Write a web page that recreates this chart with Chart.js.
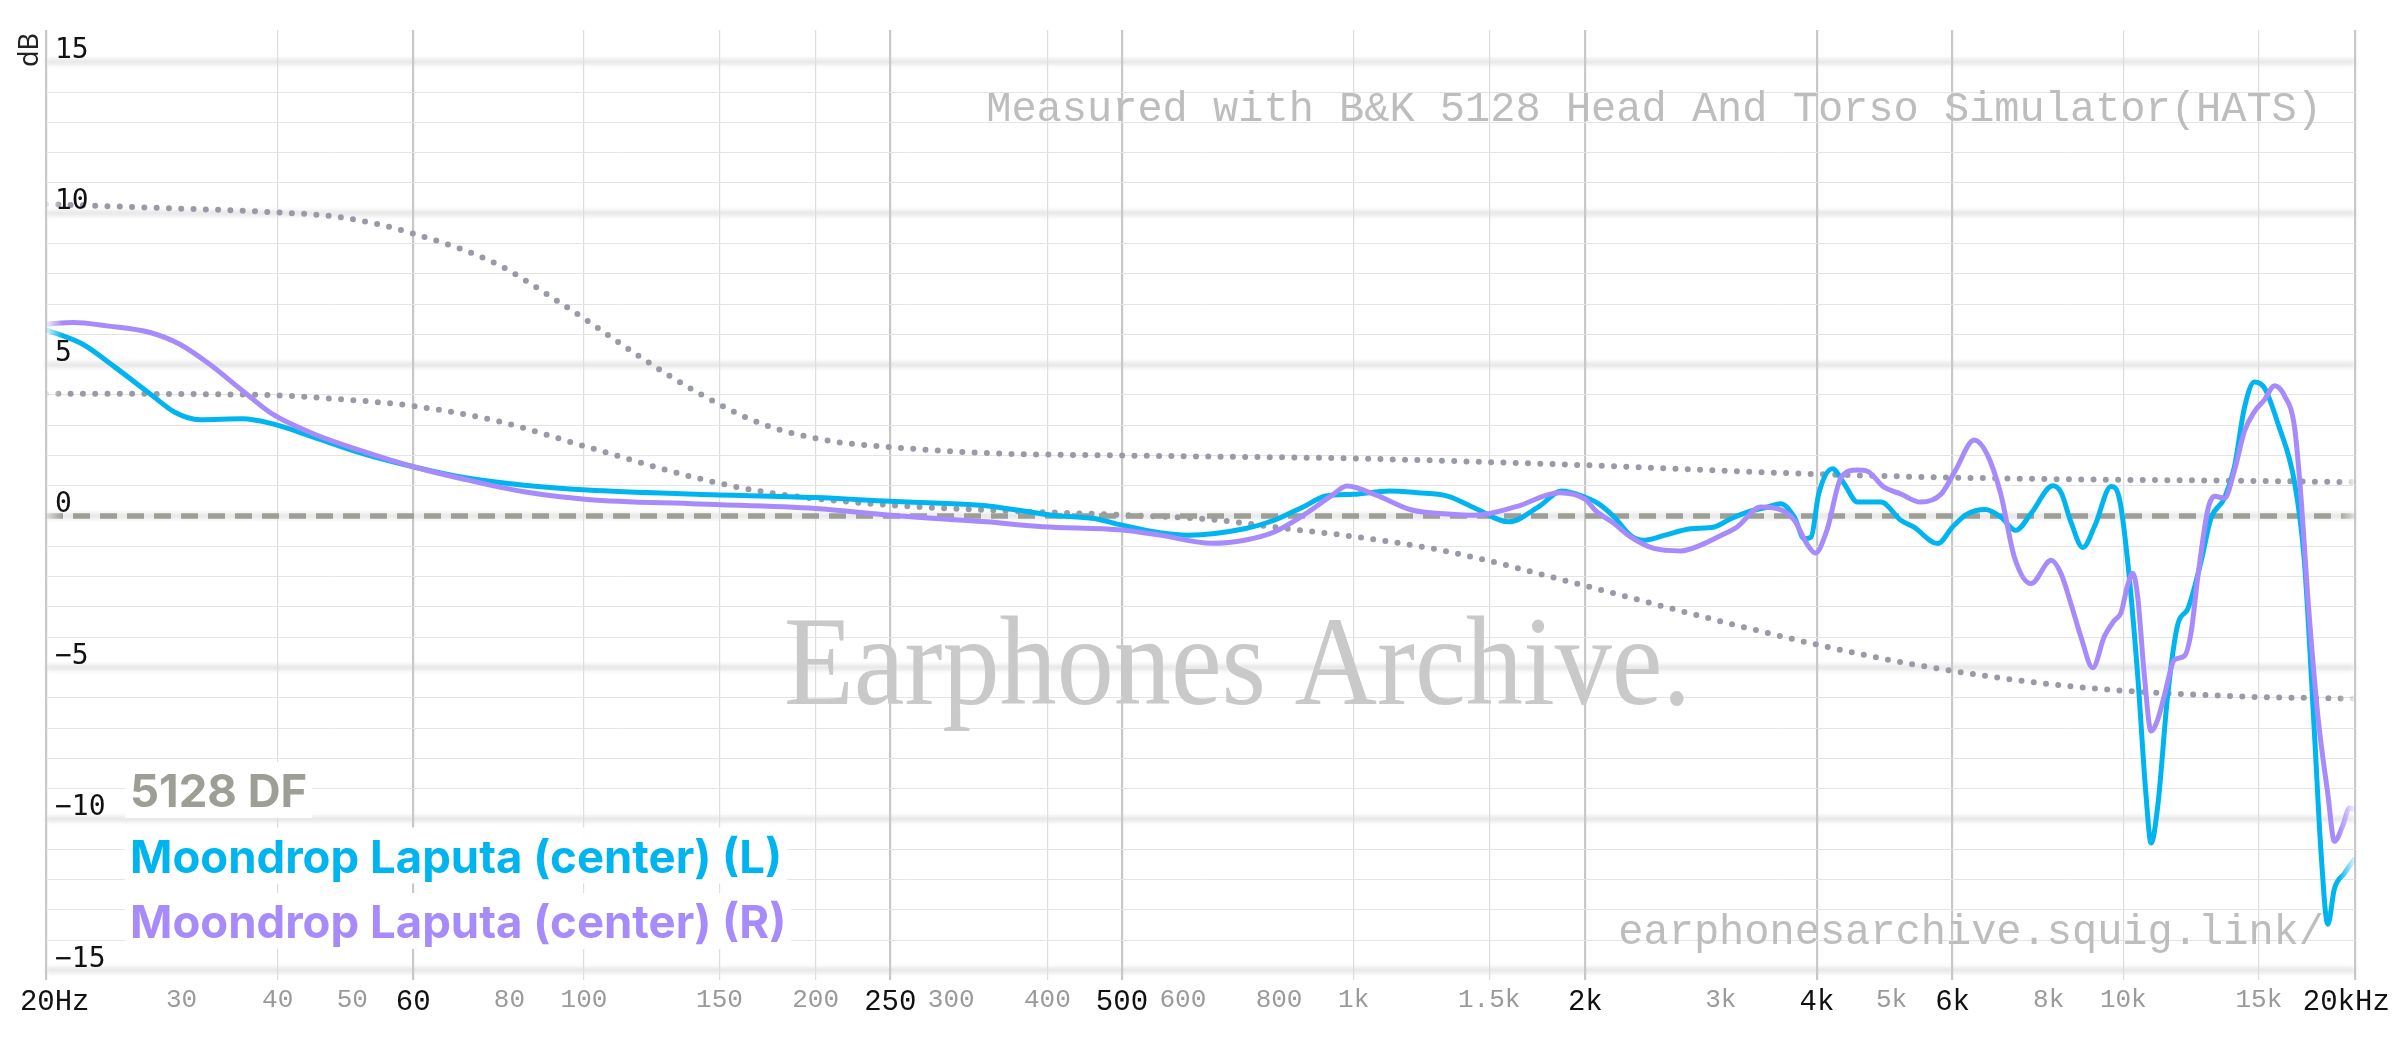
<!DOCTYPE html>
<html>
<head>
<meta charset="utf-8">
<script src="https://cdn.jsdelivr.net/npm/chart.js@4.4.1/dist/chart.umd.min.js"></script>
<style>
html,body{margin:0;padding:0;background:#fff;}
#wrap{width:2400px;height:1038px;position:relative;}
</style>
</head>
<body>
<div id="wrap"><canvas id="c" width="2400" height="1038"></canvas></div>
<script>
// ---------- DATA ----------
const freqL = [20, 22.3, 24.6, 27.3, 29.4, 31.7, 36, 39.3, 44.5, 51.2, 60.2, 69.2, 83.6, 101, 140, 200, 250, 291, 333, 365, 405, 460, 500, 560, 610, 724, 790, 861, 920, 1000, 1113, 1210, 1324, 1440, 1590, 1740, 1864, 2000, 2080, 2180, 2290, 2385, 2532, 2740, 2940, 3090, 3248, 3450, 3590, 3737, 3850, 3930, 4020, 4190, 4340, 4515, 4842, 5140, 5340, 5740, 6000, 6250, 6620, 6930, 7250, 7586, 8100, 8300, 8551, 8860, 9180, 9640, 9880, 10132, 10440, 10700, 10866, 11086, 11420, 11770, 12130, 12620, 13000, 13532, 13944, 14368, 14806, 15256, 15880, 16692, 17190, 17720, 18070, 18438, 18808, 19380, 20000];
const splL = [6.15, 5.68, 4.91, 4.04, 3.43, 3.18, 3.21, 3.05, 2.61, 2.09, 1.62, 1.29, 1.02, 0.86, 0.72, 0.61, 0.49, 0.42, 0.34, 0.2, 0.03, -0.08, -0.3, -0.55, -0.63, -0.41, -0.13, 0.31, 0.66, 0.72, 0.83, 0.77, 0.66, 0.25, -0.19, 0.31, 0.83, 0.62, 0.41, -0.03, -0.64, -0.8, -0.64, -0.42, -0.36, -0.09, 0.13, 0.3, 0.41, -0.03, -0.75, -0.69, 0.73, 1.56, 1.06, 0.46, 0.46, -0.14, -0.36, -0.91, -0.36, 0.05, 0.22, -0.03, -0.47, 0.08, 1.0, 0.78, -0.2, -1.04, -0.33, 0.98, 0.59, -1.5, -5.27, -9.18, -10.8, -9.57, -5.92, -3.58, -3.06, -1.5, -0.07, 0.59, 1.63, 3.58, 4.43, 4.23, 3.06, 1.11, -1.5, -7.23, -11.13, -13.48, -12.3, -11.8, -11.3];

const freqR = [20, 21.7, 24, 27.3, 29.8, 32.6, 36, 39.3, 44.5, 51.2, 60.2, 69.2, 83.6, 101, 141, 200, 250, 333, 395, 500, 560, 655, 724, 790, 861, 938, 980, 1070, 1190, 1324, 1440, 1625, 1850, 2000, 2060, 2180, 2290, 2455, 2660, 2825, 3000, 3150, 3380, 3590, 3737, 3890, 3980, 4120, 4300, 4515, 4650, 4890, 5140, 5450, 5800, 6050, 6402, 6650, 6930, 7218, 7586, 8060, 8300, 8551, 8812, 9126, 9450, 9736, 9932, 10132, 10286, 10440, 10650, 10866, 11086, 11308, 11652, 12006, 12248, 12496, 12874, 13132, 13532, 13944, 14368, 14806, 15256, 15720, 16198, 16692, 17022, 17366, 17894, 18438, 18808, 19288, 19670, 20000];
const splR = [6.34, 6.39, 6.28, 6.06, 5.68, 5.02, 4.14, 3.38, 2.72, 2.17, 1.62, 1.24, 0.80, 0.55, 0.4, 0.25, 0.03, -0.19, -0.35, -0.46, -0.63, -0.9, -0.79, -0.52, 0.03, 0.69, 0.99, 0.69, 0.2, 0.07, 0.03, 0.31, 0.77, 0.55, 0.19, -0.25, -0.69, -1.07, -1.15, -0.96, -0.64, -0.36, 0.3, 0.21, -0.14, -0.96, -1.22, -0.47, 1.28, 1.52, 1.48, 0.95, 0.73, 0.46, 0.73, 1.5, 2.51, 2.05, 0.73, -1.35, -2.23, -1.46, -1.9, -2.9, -4.0, -5.01, -3.97, -3.45, -3.19, -2.28, -1.89, -2.67, -5.27, -7.10, -6.71, -5.92, -4.75, -4.62, -3.84, -2.02, 0.20, 0.65, 0.59, 1.50, 2.80, 3.45, 3.84, 4.30, 3.97, 2.93, 0.59, -2.67, -6.58, -9.18, -10.74, -10.22, -9.64, -9.7];

const freqUpper = [20, 27.6, 38.9, 48.8, 60, 77.2, 91.6, 101, 117.6, 140, 170, 206.6, 249.6, 333, 502, 1002, 1996, 4040, 6030, 8720, 13600, 20000];
const boundUpper = [10.3, 10.18, 10.04, 9.85, 9.33, 8.31, 7.16, 6.45, 5.30, 4.1, 3.05, 2.5, 2.28, 2.08, 2.0, 1.9, 1.68, 1.38, 1.27, 1.21, 1.17, 1.12];

const freqLower = [20, 36.9, 47.4, 60.2, 77.6, 101, 141, 174, 249.6, 333, 502, 666, 790, 1002, 1324, 1996, 2940, 3990, 5340, 8600, 13600, 20000];
const boundLower = [4.04, 4.01, 3.87, 3.63, 3.12, 2.28, 1.24, 0.77, 0.36, 0.2, 0.03, -0.13, -0.37, -0.68, -1.17, -2.3, -3.42, -4.24, -4.9, -5.63, -5.94, -6.03];

const freqTarget = [20, 20000];
const splTarget = [0, 0];

const xTickValues = [20, 30, 40, 50, 60, 80, 100, 150, 200, 250, 300, 400, 500, 600, 800, 1000, 1500, 2000, 3000, 4000, 5000, 6000, 8000, 10000, 15000, 20000];
const xTickLabels = ['20Hz', '30', '40', '50', '60', '80', '100', '150', '200', '250', '300', '400', '500', '600', '800', '1k', '1.5k', '2k', '3k', '4k', '5k', '6k', '8k', '10k', '15k', '20kHz'];
const xMajorTicks = [20, 60, 250, 500, 2000, 4000, 6000, 20000];
const xLightGrid = [40, 100, 150, 200, 400, 1000, 1500, 10000, 15000];

const yGridValues = [-15,-14,-13,-12,-11,-10,-9,-8,-7,-6,-5,-4,-3,-2,-1,0,1,2,3,4,5,6,7,8,9,10,11,12,13,14,15];
const yTickValues = [15, 10, 5, 0, -5, -10, -15];
const yTickLabels = ['15', '10', '5', '0', '−5', '−10', '−15'];
const yAxisTitle = 'dB';

const legendNames = ['5128 DF', 'Moondrop Laputa (center) (L)', 'Moondrop Laputa (center) (R)'];
const noteTop = 'Measured with B&K 5128 Head And Torso Simulator(HATS)';
const noteBottom = 'earphonesarchive.squig.link/';
const watermark = 'Earphones Archive.';

// ---------- STYLE ----------
const RGB_L = '0,181,239';
const RGB_R = '167,139,250';
const RGB_T = '157,159,151';
const RGB_B = '152,155,165';

const toPoints = (xs, ys) => xs.map((x, i) => ({ x: x, y: ys[i] }));

function fade(rgb) {
  return function (context) {
    const chart = context.chart;
    const area = chart.chartArea;
    if (!area) return 'rgb(' + rgb + ')';
    const g = chart.ctx.createLinearGradient(area.left, 0, area.right, 0);
    const f = 16 / (area.right - area.left);
    g.addColorStop(0, 'rgba(' + rgb + ',0.12)');
    g.addColorStop(f, 'rgba(' + rgb + ',1)');
    g.addColorStop(1 - f, 'rgba(' + rgb + ',1)');
    g.addColorStop(1, 'rgba(' + rgb + ',0.12)');
    return g;
  };
}

const bandPlugin = {
  id: 'bands',
  beforeDraw(chart) {
    const a = chart.chartArea; const y = chart.scales.y;
    if (!a || !y) return;
    const ctx = chart.ctx;
    ctx.save();
    ctx.filter = 'blur(2px)';
    ctx.strokeStyle = '#e2e2e2';
    ctx.lineWidth = 5;
    yTickValues.forEach(v => {
      const py = y.getPixelForValue(v);
      ctx.beginPath(); ctx.moveTo(a.left, py); ctx.lineTo(a.right, py); ctx.stroke();
    });
    ctx.restore();
  }
};

const textPlugin = {
  id: 'texts',
  beforeDatasetsDraw(chart) {
    const ctx = chart.ctx;
    ctx.save();
    ctx.fillStyle = '#bdbdbd';
    ctx.font = '42px "Liberation Mono", monospace';
    ctx.textAlign = 'right';
    ctx.textBaseline = 'alphabetic';
    ctx.fillText(noteTop, 2322, 121);
    ctx.fillText(noteBottom, 2324, 944);
    ctx.font = '128px "Liberation Serif", serif';
    ctx.fillStyle = '#c9c9c9';
    ctx.textAlign = 'left';
    const w = ctx.measureText(watermark).width;
    ctx.translate(784, 704);
    ctx.scale(907 / w, 1);
    ctx.fillText(watermark, 0, 0);
    ctx.restore();
  },
  afterDraw(chart) {
    const ctx = chart.ctx;
    const colors = ['rgb(' + RGB_T + ')', 'rgb(' + RGB_L + ')', 'rgb(' + RGB_R + ')'];
    ctx.save();
    ctx.font = '27px "Noto Sans", sans-serif';
    ctx.fillStyle = '#222222';
    ctx.textAlign = 'center';
    ctx.textBaseline = 'middle';
    ctx.translate(30, 50);
    ctx.rotate(-Math.PI / 2);
    ctx.fillText(yAxisTitle, 0, 0);
    ctx.restore();

    ctx.save();
    ctx.font = '700 45.5px Inter, "Noto Sans", sans-serif';
    ctx.textAlign = 'left';
    ctx.textBaseline = 'alphabetic';
    legendNames.forEach((name, i) => {
      const x = 130, y = 807 + i * 65.5;
      const w = ctx.measureText(name).width;
      ctx.fillStyle = '#ffffff';
      ctx.fillRect(x - 5, y - 45, w + 10, 56);
      ctx.fillStyle = colors[i];
      ctx.fillText(name, x, y);
    });
    ctx.restore();
  }
};

const lineBase = { pointRadius: 0, pointHoverRadius: 0, cubicInterpolationMode: 'monotone', fill: false };

const chart = new Chart(document.getElementById('c'), {
  type: 'line',
  data: {
    datasets: [
      Object.assign({}, lineBase, { label: legendNames[2], data: toPoints(freqR, splR), borderColor: fade(RGB_R), borderWidth: 5 }),
      Object.assign({}, lineBase, { label: legendNames[1], data: toPoints(freqL, splL), borderColor: fade(RGB_L), borderWidth: 5 }),
      Object.assign({}, lineBase, { label: legendNames[0], data: toPoints(freqTarget, splTarget), borderColor: fade(RGB_T), borderWidth: 5.5, borderDash: [17, 10] }),
      Object.assign({}, lineBase, { label: 'upper', data: toPoints(freqUpper, boundUpper), borderColor: fade(RGB_B), borderWidth: 6, borderDash: [0, 12.3], borderCapStyle: 'round' }),
      Object.assign({}, lineBase, { label: 'lower', data: toPoints(freqLower, boundLower), borderColor: fade(RGB_B), borderWidth: 6, borderDash: [0, 12.3], borderCapStyle: 'round' })
    ]
  },
  options: {
    responsive: false,
    animation: false,
    devicePixelRatio: 1,
    layout: { padding: { top: 30, right: 45, left: 0, bottom: 0 } },
    plugins: { legend: { display: false }, tooltip: { enabled: false } },
    scales: {
      x: {
        type: 'logarithmic', min: 20, max: 20000,
        afterBuildTicks: (axis) => { axis.ticks = xTickValues.map(v => ({ value: v })); },
        afterFit: (axis) => { axis.height = 58; axis.paddingLeft = 0; axis.paddingRight = 0; },
        border: { display: false },
        grid: {
          drawTicks: false,
          color: (c) => {
            const v = c.tick ? c.tick.value : null;
            if (xMajorTicks.includes(v)) return '#c8c8c8';
            if (xLightGrid.includes(v)) return '#dddddd';
            return 'rgba(0,0,0,0)';
          },
          lineWidth: (c) => (c.tick && xMajorTicks.includes(c.tick.value)) ? 2.2 : 1.2
        },
        ticks: {
          autoSkip: false, maxRotation: 0, minRotation: 0, padding: 5,
          callback: (value, index) => {
            const s = xTickLabels[index];
            if (index === 0) return ' ' + s;
            if (index === xTickLabels.length - 1) return s + ' ';
            return s;
          },
          color: (c) => (c.tick && xMajorTicks.includes(c.tick.value)) ? '#111111' : '#9a9a9a',
          font: (c) => ({ family: '"Liberation Mono", monospace', size: (c.tick && xMajorTicks.includes(c.tick.value)) ? 29 : 26 })
        }
      },
      y: {
        type: 'linear', min: -15.32, max: 16.05,
        afterBuildTicks: (axis) => { axis.ticks = yGridValues.map(v => ({ value: v })); },
        afterFit: (axis) => { axis.width = 46; },
        border: { display: false },
        grid: {
          drawTicks: false,
          color: (c) => (c.tick && yTickValues.includes(c.tick.value)) ? 'rgba(0,0,0,0)' : '#e4e4e4',
          lineWidth: 1
        },
        ticks: {
          autoSkip: false, mirror: true, padding: 9, labelOffset: -11, z: 1,
          color: '#111111',
          font: { family: '"DejaVu Sans Mono", monospace', size: 28 },
          callback: (value) => { const i = yTickValues.indexOf(value); return i >= 0 ? yTickLabels[i] : ''; }
        }
      }
    }
  },
  plugins: [bandPlugin, textPlugin]
});

if (document.fonts && document.fonts.load) {
  Promise.all([
    document.fonts.load('700 46px Inter'),
    document.fonts.load('42px "Liberation Mono"'),
    document.fonts.load('128px "Liberation Serif"'),
    document.fonts.load('28px "DejaVu Sans Mono"'),
    document.fonts.load('27px "Noto Sans"')
  ]).then(() => chart.update()).catch(() => {});
}
</script>
</body>
</html>
